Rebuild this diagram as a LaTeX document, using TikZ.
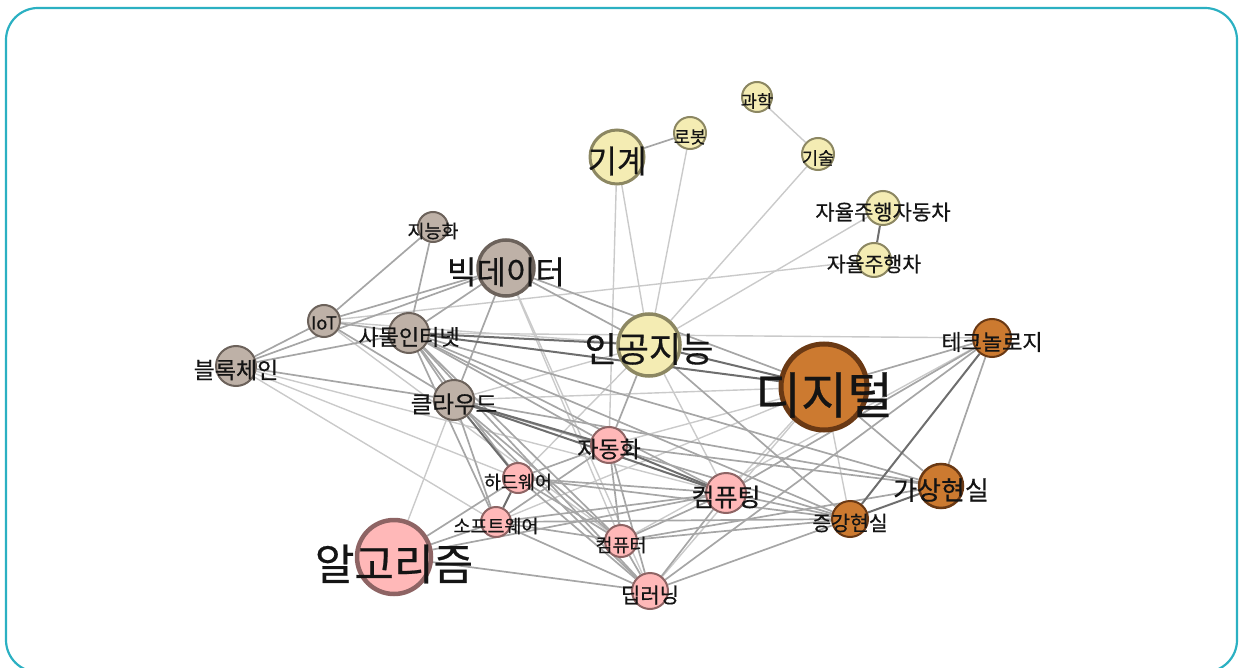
\documentclass[tikz,border=0pt]{standalone}
\usepackage{fontspec}
\newfontfamily\kr[FakeBold=0.5]{Noto Sans CJK KR}
\usetikzlibrary{backgrounds}
\definecolor{frame}{HTML}{2BB0C2}
\definecolor{yfill}{HTML}{F4ECB3}
\definecolor{yline}{HTML}{8C8762}
\definecolor{gfill}{HTML}{BEB1A7}
\definecolor{gline}{HTML}{6C625B}
\definecolor{pfill}{HTML}{FFB8B8}
\definecolor{pline}{HTML}{8E6464}
\definecolor{ofill}{HTML}{CC7A30}
\definecolor{oline}{HTML}{6A3914}
\definecolor{lgray}{HTML}{CACACA}
\definecolor{mgray}{HTML}{A6A6A6}
\definecolor{dgray}{HTML}{6E6E6E}
\newcommand{\fs}[1]{\kr\fontsize{#1}{#1}\selectfont}
\begin{document}
\begin{tikzpicture}[x=1pt,y=-1pt,
  nd/.style={circle, inner sep=0pt, line width=2pt},
  ynode/.style={nd, fill=yfill, draw=yline},
  gnode/.style={nd, fill=gfill, draw=gline},
  pnode/.style={nd, fill=pfill, draw=pline},
  onode/.style={nd, fill=ofill, draw=oline},
  lt/.style={text=black!92, inner sep=0pt, yshift=-4pt},
  le/.style={draw=lgray, line width=1.4pt},
  me/.style={draw=mgray, line width=1.7pt},
  de/.style={draw=dgray, line width=2pt}]
\useasboundingbox (0,0) rectangle (1241,668);
\draw[frame, line width=2.2pt, rounded corners=32pt] (6,8) rectangle (1237,672);

% yellow
\node[ynode, minimum size=54pt, line width=3pt, label={[lt, font=\fs{32}]center:기계}] (gigye) at (617,157) {};
\node[ynode, minimum size=32pt, label={[lt, font=\fs{17.5}]center:로봇}] (robot) at (690,133) {};
\node[ynode, minimum size=30pt, label={[lt, font=\fs{17.5}]center:과학}] (gwahak) at (757,97) {};
\node[ynode, minimum size=32pt, label={[lt, font=\fs{17.5}]center:기술}] (gisul) at (818,154) {};
\node[ynode, minimum size=34pt, label={[lt, font=\fs{21}]center:자율주행자동차}] (jayulA) at (883,208) {};
\node[ynode, minimum size=34pt, label={[lt, font=\fs{20.5}]center:자율주행차}] (jayulB) at (874,260) {};
\node[ynode, minimum size=62pt, line width=3.5pt, label={[lt, font=\fs{35}]center:인공지능}] (ai) at (649,345) {};
% gray
\node[gnode, minimum size=56pt, line width=3.5pt, label={[lt, font=\fs{32}]center:빅데이터}] (bigdata) at (506,268) {};
\node[gnode, minimum size=30pt, label={[lt, font=\fs{18.5}]center:지능화}] (jineung) at (433,227) {};
\node[gnode, minimum size=32pt, label={[lt, yshift=2pt, font=\fs{18}]center:IoT}] (iot) at (324,321) {};
\node[gnode, minimum size=40pt, label={[lt, font=\fs{22}]center:사물인터넷}] (samul) at (409,333) {};
\node[gnode, minimum size=40pt, label={[lt, font=\fs{23}]center:블록체인}] (block) at (236,366) {};
\node[gnode, minimum size=40pt, label={[lt, font=\fs{23.5}]center:클라우드}] (cloud) at (454,400) {};
% orange
\node[onode, minimum size=86pt, line width=5pt, label={[lt, yshift=-4pt, font=\fs{50}]center:디지털}] (digital) at (824,387) {};
\node[onode, minimum size=38pt, label={[lt, font=\fs{22}]center:테크놀로지}] (tech) at (992,338) {};
\node[onode, minimum size=44pt, line width=2.5pt, label={[lt, font=\fs{26}]center:가상현실}] (vr) at (941,486) {};
\node[onode, minimum size=36pt, label={[lt, font=\fs{20.5}]center:증강현실}] (ar) at (850,519) {};
% pink
\node[pnode, minimum size=36pt, label={[lt, font=\fs{23}]center:자동화}] (auto) at (609,445) {};
\node[pnode, minimum size=30pt, label={[lt, font=\fs{18.5}]center:하드웨어}] (hw) at (518,478) {};
\node[pnode, minimum size=30pt, label={[lt, font=\fs{18.5}]center:소프트웨어}] (sw) at (496,522) {};
\node[pnode, minimum size=74pt, line width=4.5pt, label={[lt, yshift=-3pt, font=\fs{43}]center:알고리즘}] (algo) at (394,557) {};
\node[pnode, minimum size=40pt, label={[lt, font=\fs{25}]center:컴퓨팅}] (computing) at (726,493) {};
\node[pnode, minimum size=32pt, label={[lt, font=\fs{18.5}]center:컴퓨터}] (computer) at (621,541) {};
\node[pnode, minimum size=36pt, label={[lt, font=\fs{21}]center:딥러닝}] (dl) at (650,591) {};

\begin{pgfonlayer}{background}
\foreach \a/\b in {gwahak/gisul, gisul/ai, jayulA/ai, iot/jayulB, robot/ai, gigye/auto, gigye/ai,
  block/sw, block/hw, iot/ai, samul/tech, bigdata/computer, cloud/ai, cloud/algo, cloud/digital,
  ai/computing, digital/auto, digital/dl, digital/computing, digital/ar, block/computing,
  ai/hw, bigdata/dl, tech/computer, digital/sw, iot/computer}
  \draw[le] (\a) -- (\b);
\foreach \a/\b in {gigye/robot, jineung/iot, jineung/samul, iot/bigdata, iot/block, iot/samul, iot/cloud,
  block/bigdata, block/samul, block/cloud, bigdata/samul, bigdata/ai, bigdata/digital, bigdata/cloud,
  samul/cloud, samul/auto, samul/computing, samul/hw, samul/sw, samul/computer, samul/dl, samul/ar, samul/vr,
  cloud/sw, cloud/computer, cloud/dl, cloud/ar, cloud/vr, ai/auto, ai/ar, digital/tech, digital/vr,
  tech/vr, tech/computing, tech/dl, auto/hw, auto/sw, auto/dl, auto/computer, auto/vr,
  hw/computing, hw/computer, hw/dl, hw/ar, sw/computing, sw/computer, sw/dl, sw/ar,
  algo/sw, algo/hw, algo/computing, algo/dl, computing/computer, computing/dl, computing/ar,
  computer/dl, computer/ar, dl/ar, computer/vr}
  \draw[me] (\a) -- (\b);
\foreach \a/\b in {jayulA/jayulB, samul/ai, samul/digital, ai/digital, cloud/auto, cloud/computing,
  cloud/hw, hw/sw, auto/computing, tech/ar, vr/ar}
  \draw[de] (\a) -- (\b);
\end{pgfonlayer}
\end{tikzpicture}
\end{document}
